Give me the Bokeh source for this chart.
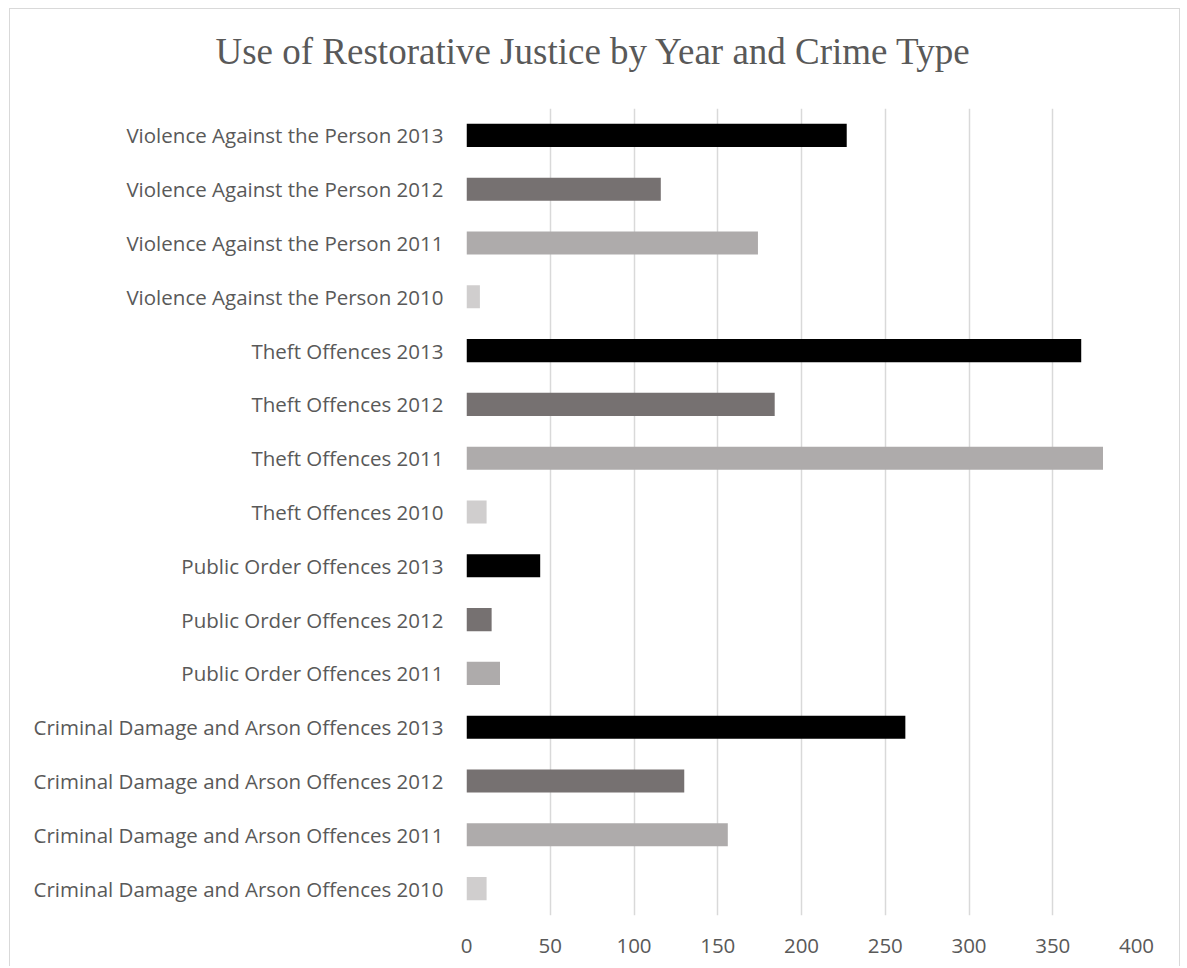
from bokeh.plotting import figure
from bokeh.models import FactorRange, Range1d, FixedTicker, Title
from bokeh.embed import file_html
from bokeh.resources import INLINE

crimes = ["Criminal Damage and Arson Offences", "Public Order Offences",
          "Theft Offences", "Violence Against the Person"]
years = ["2010", "2011", "2012", "2013"]

# values per crime type for years 2010..2013 (None = no row)
cda_values = [12, 156, 130, 262]
public_order_values = [None, 20, 15, 44]
theft_values = [12, 380, 184, 367]
violence_values = [8, 174, 116, 227]

year_colors = {"2010": "#D0CECE", "2011": "#AEABAB", "2012": "#767171", "2013": "#000000"}
x_ticks = [0, 50, 100, 150, 200, 250, 300, 350, 400]
title_text = "Use of Restorative Justice by Year and Crime Type"

labels, vals, cols = [], [], []
for crime, series in zip(crimes, [cda_values, public_order_values, theft_values, violence_values]):
    for yr, v in zip(years, series):
        if v is None:
            continue
        labels.append(f"{crime} {yr}")
        vals.append(v)
        cols.append(year_colors[yr])

p = figure(frame_width=670, frame_height=807, y_range=FactorRange(factors=labels),
           x_range=Range1d(0, 400), output_backend="svg", toolbar_location=None,
           min_border_left=456, min_border_right=43, min_border_top=99, min_border_bottom=51,
           styles={"border": "1px solid #D9D9D9", "border-bottom": "none",
                   "margin": "8px 0 0 9px"})

p.hbar(y=labels, right=vals, left=0, height=0.43, fill_color=cols, line_color=None)

# invisible spacer between the frame and the title
spacer = Title(text=" ", text_font_size="1px", standoff=32, text_color="white")
p.add_layout(spacer, "above")
t = Title(text=title_text, align="left",
          text_font="Liberation Serif", text_font_size="37px", text_color="#595959",
          text_font_style="normal", standoff=4, offset=-251)
p.add_layout(t, "above")

p.xaxis.ticker = FixedTicker(ticks=x_ticks)
p.xgrid.ticker = FixedTicker(ticks=x_ticks)
p.xgrid.grid_line_color = "#D9D9D9"
p.xgrid.grid_line_width = 1.5
p.ygrid.grid_line_color = None
p.outline_line_color = None

for ax in [p.xaxis[0], p.yaxis[0]]:
    ax.axis_line_color = None
    ax.major_tick_line_color = None
    ax.minor_tick_line_color = None
    ax.major_label_text_color = "#595959"
    ax.major_label_text_font = "Open Sans"
    ax.major_label_text_font_size = "20.5px"
p.yaxis.major_label_standoff = 17
p.xaxis.major_label_standoff = 17

open("out.html", "w").write(file_html(p, INLINE))
